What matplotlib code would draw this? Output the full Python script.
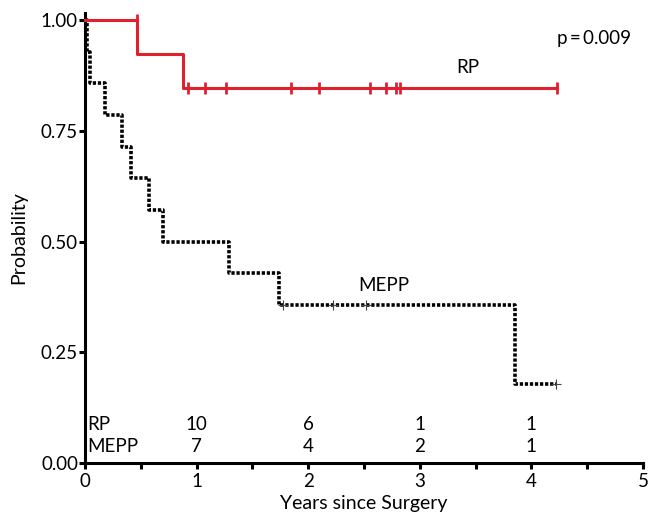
import matplotlib
matplotlib.use("Agg")
import matplotlib.pyplot as plt
import numpy as np

plt.rcParams['font.family'] = ['Lato', 'DejaVu Sans']

# survival steps
rp_times = [0, 0.47, 0.88, 4.23]
rp_surv = [1.0, 0.923, 0.846, 0.846]
rp_cens = [0.47, 0.92, 1.075, 1.26, 1.85, 2.10, 2.55, 2.70, 2.79, 2.82, 4.23]

mepp_times = [0, 0.02, 0.045, 0.18, 0.33, 0.41, 0.57, 0.70, 1.29, 1.74, 3.85, 4.22]
mepp_surv = [1.0, 0.929, 0.857, 0.786, 0.714, 0.643, 0.571, 0.5, 0.429, 0.357, 0.179, 0.179]
mepp_cens = [1.77, 2.22, 2.52, 4.22]

risk_years = [1, 2, 3, 4]
risk_rp = ["10", "6", "1", "1"]
risk_mepp = ["7", "4", "2", "1"]


def surv_at(times, surv, t):
    # value just before t (censor mark sits on the level before a drop)
    idx = np.searchsorted(times, t, side='left') - 1
    return surv[max(idx, 0)]


fig = plt.figure(figsize=(6.51, 5.17), dpi=100)
ax = fig.add_axes([85/651, 1-463/517, (643-85)/651, (463-13)/517])

red = '#e0202f'
ax.step(rp_times, rp_surv, where='post', color=red, lw=2.2, clip_on=False, zorder=3)
ax.plot(rp_cens, [surv_at(rp_times, rp_surv, t) for t in rp_cens], ls='none',
        marker='|', ms=9, mew=2, color=red, clip_on=False, zorder=3)

ax.step(mepp_times, mepp_surv, where='post', color='black', lw=2.6,
        ls=(0, (0.9, 0.5)), clip_on=False, zorder=2)
ax.plot(mepp_cens, [surv_at(mepp_times, mepp_surv, t) for t in mepp_cens], ls='none',
        marker='+', ms=7, mew=0.8, color='#444444', clip_on=False, zorder=2)

ax.set_xlim(0, 5)
ax.set_ylim(0, 1.016)
ax.set_xticks([0, 1, 2, 3, 4, 5])
ax.set_xticks(np.arange(0.5, 5, 1), minor=True)
ax.set_yticks([0, 0.25, 0.5, 0.75, 1.0])
ax.set_yticklabels(["0.00", "0.25", "0.50", "0.75", "1.00"])

for s in ['top', 'right']:
    ax.spines[s].set_visible(False)
for s in ['left', 'bottom']:
    ax.spines[s].set_linewidth(2.2)
ax.tick_params(axis='both', which='both', direction='out', length=4, width=2.2,
               labelsize=13.5)
ax.tick_params(axis='x', pad=3)
ax.tick_params(axis='y', pad=1)

ax.set_xlabel("Years since Surgery", fontsize=14, labelpad=4)
ax.set_ylabel("Probability", fontsize=14, labelpad=10)

# number at risk
ax.text(0.02, 0.088, "RP", fontsize=13.5, va='center', ha='left')
ax.text(0.02, 0.037, "MEPP", fontsize=13.5, va='center', ha='left')
for x, a, b in zip(risk_years, risk_rp, risk_mepp):
    ax.text(x, 0.088, a, fontsize=13.5, va='center', ha='center')
    ax.text(x, 0.037, b, fontsize=13.5, va='center', ha='center')

ax.text(3.33, 0.893, "RP", fontsize=13.5, va='center', ha='left')
ax.text(2.45, 0.40, "MEPP", fontsize=13.5, va='center', ha='left')
ax.text(4.23, 0.958, "p\u2009=\u20090.009", fontsize=13.5, va='center', ha='left')

fig.savefig("out.png", dpi=100)
